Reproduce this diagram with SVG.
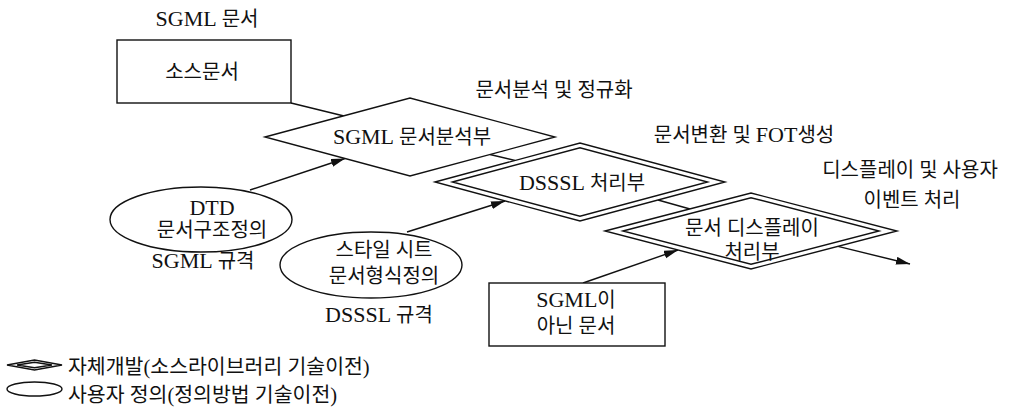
<svg xmlns="http://www.w3.org/2000/svg" width="1022" height="410" viewBox="0 0 1022 410">
<style>
text{font-family:"Liberation Serif","Noto Sans CJK KR",serif;font-size:20px;fill:#111;text-anchor:middle}
.la{font-size:22px}
.lg{text-anchor:start;font-size:20.5px}
.sh{fill:#fff;stroke:#111;stroke-width:1.4}
.in{fill:none;stroke:#111;stroke-width:1.4}
.ln{fill:none;stroke:#111;stroke-width:1.4}
</style>
<defs>
<marker id="ah" markerUnits="userSpaceOnUse" markerWidth="16" markerHeight="10" refX="14" refY="4" orient="auto">
<path d="M0,0 L14,4 L0,8 z" fill="#111"/>
</marker>
</defs>
<rect width="1022" height="410" fill="#fff"/>
<g id="connectors">
<line class="ln" x1="291" y1="103" x2="344" y2="116"/>
<line class="ln" x1="490" y1="154.5" x2="515" y2="160.5"/>
<line class="ln" x1="658" y1="200" x2="690" y2="209"/>
<line class="ln" x1="250" y1="190" x2="345" y2="158.5" marker-end="url(#ah)"/>
<line class="ln" x1="407" y1="232" x2="505" y2="201" marker-end="url(#ah)"/>
<line class="ln" x1="583" y1="283" x2="678" y2="250" marker-end="url(#ah)"/>
<line class="ln" x1="838" y1="246.4" x2="910" y2="264" marker-end="url(#ah)"/>
</g>
<g id="label-sgml-doc"><text x="207" y="26"><tspan class="la">SGML</tspan> 문서</text></g>
<g id="node-source">
<rect class="sh" x="117" y="40" width="174" height="63"/>
<text x="202" y="79">소스문서</text>
</g>
<g id="node-sgml-parser">
<polygon class="sh" points="265,137 410,98 555,137 410,176"/>
<text x="412" y="144"><tspan class="la">SGML</tspan> 문서분석부</text>
</g>
<g id="label-parse"><text x="554" y="97">문서분석 및 정규화</text></g>
<g id="node-dsssl">
<polygon class="sh" points="435,182 580,143 725,182 580,221"/>
<polygon class="in" points="452.4,182 580,147.7 707.6,182 580,216.3"/>
<text x="582" y="190"><tspan class="la">DSSSL</tspan> 처리부</text>
</g>
<g id="label-transform"><text x="744" y="142">문서변환 및 <tspan class="la">FOT</tspan>생성</text></g>
<g id="label-display"><text x="910" y="177">디스플레이 및 사용자</text><text x="912" y="207">이벤트 처리</text></g>
<g id="node-display">
<polygon class="sh" points="605,231 751,193 897,231 751,269"/>
<polygon class="in" points="622.9,231 751,197.7 879.1,231 751,264.3"/>
<text x="752" y="235">문서 디스플레이</text>
<text x="752" y="259">처리부</text>
</g>
<g id="node-dtd">
<ellipse class="sh" cx="201" cy="219.5" rx="91" ry="32.5"/>
<text x="212" y="215" class="la">DTD</text>
<text x="212" y="237">문서구조정의</text>
</g>
<g id="label-sgml-std"><text x="203" y="268"><tspan class="la">SGML</tspan> 규격</text></g>
<g id="node-style">
<ellipse class="sh" cx="371" cy="265" rx="91" ry="33"/>
<text x="384" y="257">스타일 시트</text>
<text x="384" y="283">문서형식정의</text>
</g>
<g id="label-dsssl-std"><text x="379" y="322"><tspan class="la">DSSSL</tspan> 규격</text></g>
<g id="node-nonsgml">
<rect class="sh" x="489" y="283" width="176" height="63"/>
<text x="576" y="307"><tspan class="la">SGML</tspan>이</text>
<text x="576" y="333">아닌 문서</text>
</g>
<g id="legend">
<polygon class="sh" points="7,365 34.5,360 62,365 34.5,370"/>
<polygon class="in" points="17,365 34.5,362.2 52,365 34.5,367.8"/>
<text class="lg" x="68" y="374">자체개발(소스라이브러리 기술이전)</text>
<ellipse class="sh" cx="34.5" cy="389" rx="27.5" ry="7"/>
<text class="lg" x="68" y="402">사용자 정의(정의방법 기술이전)</text>
</g>
</svg>
